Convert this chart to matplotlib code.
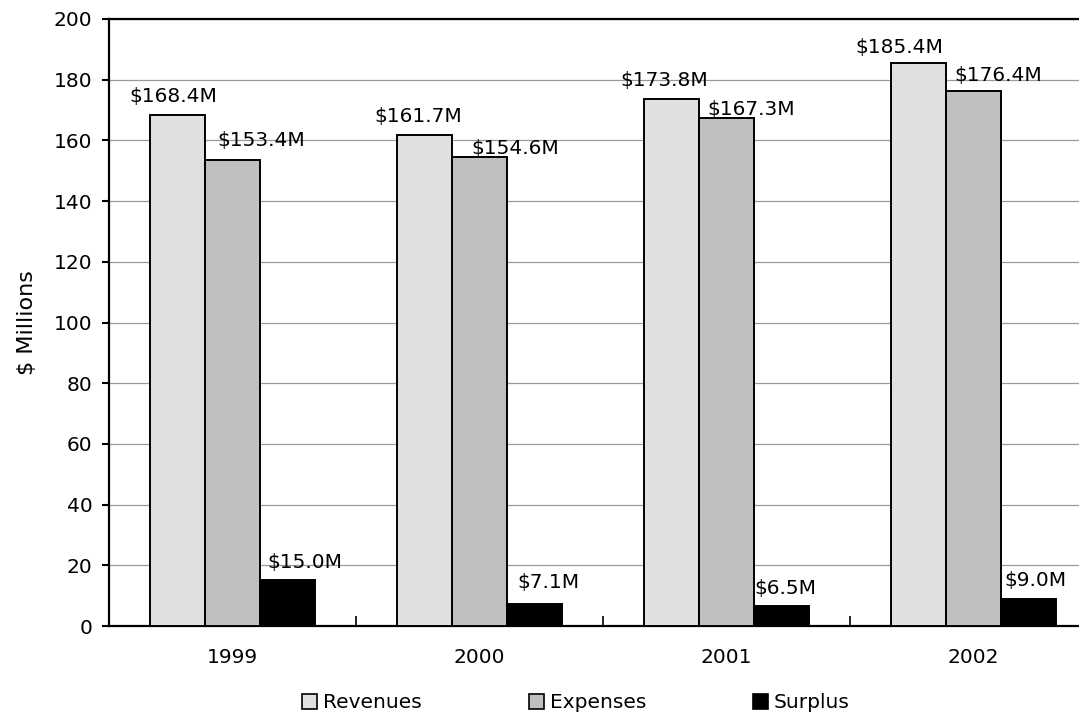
import numpy as np
import matplotlib
matplotlib.use("Agg")
import matplotlib.pyplot as plt
from matplotlib.patches import Patch

years    = ["1999", "2000", "2001", "2002"]
revenues = [168.4, 161.7, 173.8, 185.4]
expenses = [153.4, 154.6, 167.3, 176.4]
surplus  = [15.0, 7.1, 6.5, 9.0]

series = [("Revenues", revenues, "#e0e0e0"),
          ("Expenses", expenses, "#c0c0c0"),
          ("Surplus",  surplus,  "#000000")]

# label offsets (pixels) from each bar's top-left corner, as placed in the original
label_off = [
    [(-21, 13), (-23, 13), (-24, 13), (-36, 10)],
    [(12, 14), (19, 3), (8, 3), (8, 10)],
    [(7, 12), (10, 16), (0, 12), (3, 13)],
]

FS = 14.5
plt.rcParams["font.family"] = ["DejaVu Sans"]

W, H = 1079, 715
fig = plt.figure(figsize=(W / 100, H / 100), dpi=100, facecolor="white")
ax = fig.add_axes([109 / W, (H - 626) / H, (W - 109) / W, (626 - 19) / H])

x = np.arange(len(years))
bw = 0.222
for k, (name, vals, col) in enumerate(series):
    bars = ax.bar(x + (k - 1) * bw, vals, bw, color=col, edgecolor="black",
                  linewidth=1.4, zorder=3, label=name)
    for i, (b, v) in enumerate(zip(bars, vals)):
        dx, dy = label_off[k][i]
        ax.annotate(f"\\${v:.1f}M", (b.get_x(), v), xytext=(dx, dy),
                    textcoords="offset pixels", ha="left", va="baseline",
                    fontsize=FS, color="black", zorder=4)

ax.set_ylim(0, 200)
ax.set_yticks(np.arange(0, 201, 20))
ax.set_xlim(-0.5, (W - 109) / 247 - 0.5)
ax.set_xticks(x)
ax.set_xticklabels(years)
ax.set_xticks(x[:-1] + 0.5, minor=True)

ax.tick_params(axis="x", which="major", length=0, pad=16, labelsize=FS)
ax.tick_params(axis="x", which="minor", direction="in", length=7, width=1.2)
ax.tick_params(axis="y", direction="out", length=5, width=1.5, pad=7, labelsize=FS)

ax.yaxis.grid(True, color="#9a9a9a", linewidth=0.9, zorder=0)
ax.set_axisbelow(True)
for side in ("left", "top", "bottom"):
    ax.spines[side].set_linewidth(1.6)
ax.spines["right"].set_visible(False)

ax.set_ylabel("\\$ Millions", fontsize=16, labelpad=12)

handles = [Patch(facecolor=c, edgecolor="black", linewidth=1.2, label=n)
           for n, _, c in series]
fig.legend(handles=handles, loc="center", bbox_to_anchor=(576 / W, 12 / H),
           ncol=3, frameon=False, fontsize=FS, handlelength=0.75,
           handleheight=0.75, handletextpad=0.3, columnspacing=5.3,
           borderaxespad=0, borderpad=0)

fig.savefig("out.png", dpi=100)
